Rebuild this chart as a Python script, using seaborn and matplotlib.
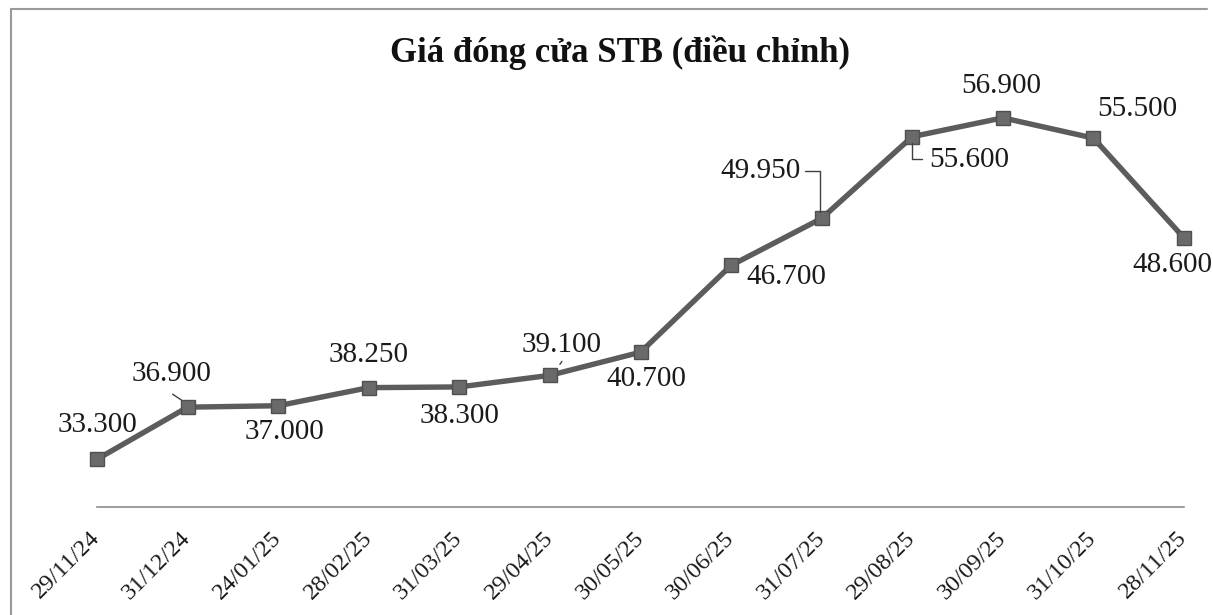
import matplotlib
matplotlib.use("Agg")
import matplotlib.pyplot as plt
import seaborn as sns
import pandas as pd

# ---- data ----
dates = ["29/11/24", "31/12/24", "24/01/25", "28/02/25", "31/03/25", "29/04/25",
         "30/05/25", "30/06/25", "31/07/25", "29/08/25", "30/09/25", "31/10/25", "28/11/25"]
prices = [33300, 36900, 37000, 38250, 38300, 39100, 40700, 46700, 49950, 55600, 56900, 55500, 48600]
title = "Giá đóng cửa STB (điều chỉnh)"

# label placement (pixel offsets of label centre from its point)
label_offsets = [(0, -34), (-16, -33), (6, 26), (0, -33), (0, 29), (12, -30), (6, 27),
                 (55, 12), (-61, -47), (57, 23), (-2, -32), (44, -29), (-12, 27)]

sns.set_theme(style="white")
plt.rcParams["font.family"] = ["Liberation Serif", "DejaVu Serif"]

W, H, DPI = 1213, 615, 100
fig = plt.figure(figsize=(W / DPI, H / DPI), dpi=DPI)
fig.patch.set_facecolor("white")

left, right = 97 / W, 1184 / W
bottom, top = (H - 507) / H, (H - 73) / H
ax = fig.add_axes([left, bottom, right - left, top - bottom])

df = pd.DataFrame({"x": range(len(dates)), "price": prices})
sns.lineplot(data=df, x="x", y="price", ax=ax, color="#5c5c5c", linewidth=3.9,
             marker="s", markersize=10.5, markerfacecolor="#6a6a6a",
             markeredgecolor="#505050", markeredgewidth=1.0, zorder=3, clip_on=False)

ax.set_xlim(0, len(dates) - 1)
ax.set_ylim(30000, 60000)
ax.set_xlabel("")
ax.set_ylabel("")
ax.set_yticks([])
ax.set_xticks(range(len(dates)))
ax.set_xticklabels(dates, rotation=45, ha="right", va="center",
                   rotation_mode="anchor", fontsize=17.5, color="#1a1a1a")
ax.tick_params(axis="x", direction="out", length=5, width=1.1, color="#8c8c8c", pad=15)
for s in ["top", "right", "left"]:
    ax.spines[s].set_visible(False)
ax.spines["bottom"].set_color("#8c8c8c")
ax.spines["bottom"].set_linewidth(1.2)
ax.patch.set_alpha(0)


def fmt(v):
    return f"{v:,}".replace(",", ".")


px = 72.0 / DPI  # points per pixel
for i, (v, (dx, dy)) in enumerate(zip(prices, label_offsets)):
    ax.annotate(fmt(v), (i, v), xytext=(dx * px, -dy * px), textcoords="offset points",
                ha="center", va="center", fontsize=21, color="#1a1a1a", zorder=4)

# leader lines (pixel offsets from their point)
leaders = {1: [(-15, -13), (-6, -7)],
           5: [(10, -11), (12, -14)],
           8: [(-17, -47), (-2, -47), (-2, -6)],
           9: [(0, 6), (0, 22), (10, 22)]}
fig.canvas.draw()
for i, pts in leaders.items():
    disp = ax.transData.transform((i, prices[i]))
    fx = [(disp[0] + ddx) / W for ddx, _ in pts]
    fy = [(disp[1] - ddy) / H for _, ddy in pts]
    fig.add_artist(plt.Line2D(fx, fy, transform=fig.transFigure, color="#404040", lw=1.0))

# chart frame (left and top edges visible)
fig.add_artist(plt.Line2D([11 / W, 11 / W], [0, 1 - 9 / H], transform=fig.transFigure,
                          color="#9a9a9a", lw=1.5))
fig.add_artist(plt.Line2D([11 / W, 1207 / W], [1 - 9 / H, 1 - 9 / H], transform=fig.transFigure,
                          color="#9a9a9a", lw=1.5))

fig.text(620 / W, 1 - 62 / H, title, ha="center", va="baseline", fontsize=25,
         fontweight="bold", color="#111111")

fig.savefig("out.png", dpi=DPI, facecolor="white")
